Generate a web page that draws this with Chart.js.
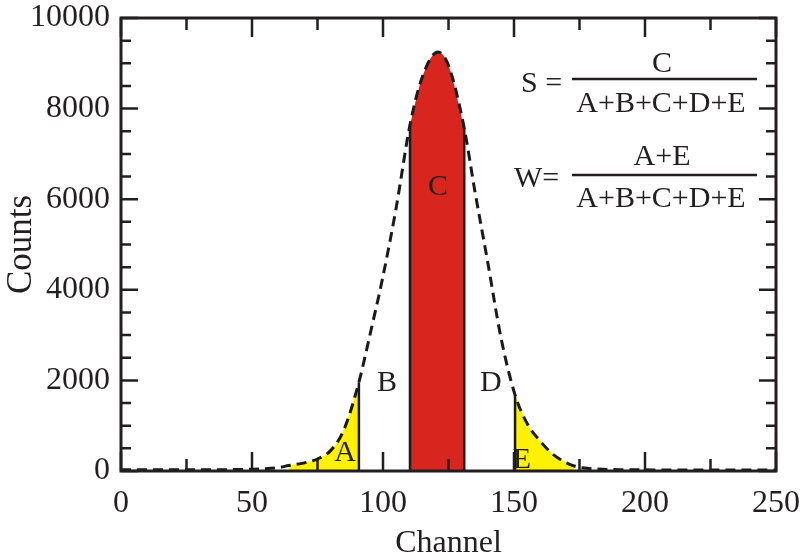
<!DOCTYPE html>
<html>
<head>
<meta charset="utf-8">
<script src="https://cdn.jsdelivr.net/npm/chart.js@4.4.0/dist/chart.umd.min.js"></script>
<style>
  body { margin: 0; background: #fff; }
  canvas { display: block; }
</style>
</head>
<body>
<canvas id="peakChart" width="801" height="560"></canvas>
<script>
// Spectrum: channel vs counts
const channels = [0, 10, 20, 30, 40, 50, 55, 60, 64, 70, 75, 80, 85, 90.8, 95, 100, 105, 110.3, 115, 121,
  125, 131, 135, 140, 145, 150.4, 155, 160, 165, 173, 180, 190, 200, 210, 220, 230, 240, 250];
const counts = [30, 30, 30, 30, 30, 40, 50, 75, 120, 180, 265, 450, 900, 1960, 3000, 4300, 5800, 7640, 8700, 9250,
  8950, 7570, 6200, 4600, 2950, 1680, 1050, 660, 360, 110, 50, 30, 25, 20, 20, 20, 20, 20];

// Shaded windows (channel ranges)
const regionNames = ['A', 'C', 'E'];
const regionFrom = [64, 110.3, 150.4];
const regionTo = [90.8, 131, 173];
const regionColors = ['#fff200', '#d8261e', '#fff200'];
// channels where a solid vertical edge is drawn
const edgeChannels = [90.8, 110.3, 131, 150.4];

// Letter labels (data coordinates)
const letterText = ['A', 'B', 'C', 'D', 'E'];
const letterX = [85.5, 101.5, 121, 141.2, 153];
const letterY = [400, 1940, 6260, 1940, 240];

const xTicksStep = 50, xMinorStep = 25;
const yTicksStep = 2000, yMinorStep = 500;

const SERIF = '"Liberation Serif", "Times New Roman", serif';
const INK = '#231f20';

const curve = channels.map((c, i) => ({ x: c, y: counts[i] }));

const datasets = [{
  label: 'Counts',
  data: curve,
  borderColor: '#1a1a1a',
  borderWidth: 3,
  borderDash: [10, 6],
  pointRadius: 0,
  cubicInterpolationMode: 'monotone',
  fill: false,
  order: 0
}];

regionNames.forEach((name, r) => {
  datasets.push({
    label: name,
    data: curve.filter(p => p.x >= regionFrom[r] && p.x <= regionTo[r]),
    backgroundColor: regionColors[r],
    borderWidth: 0,
    pointRadius: 0,
    cubicInterpolationMode: 'monotone',
    fill: 'origin',
    order: 3
  });
});

edgeChannels.forEach(c => {
  const v = counts[channels.indexOf(c)];
  datasets.push({
    label: 'edge',
    data: [{ x: c, y: 0 }, { x: c, y: v }],
    borderColor: '#1a1a1a',
    borderWidth: 2.5,
    pointRadius: 0,
    fill: false,
    order: 2
  });
});

// frame + inward ticks on all four sides
const framePlugin = {
  id: 'frame',
  afterDatasetsDraw(chart) {
    const { ctx, chartArea: a, scales: { x, y } } = chart;
    ctx.save();
    ctx.strokeStyle = INK;
    ctx.lineWidth = 2.5;
    ctx.beginPath();
    for (let v = 0; v <= 250; v += xMinorStep) {
      const px = x.getPixelForValue(v);
      const len = v % xTicksStep === 0 ? 19 : 12;
      ctx.moveTo(px, a.bottom); ctx.lineTo(px, a.bottom - len);
      ctx.moveTo(px, a.top); ctx.lineTo(px, a.top + len);
    }
    for (let v = 0; v <= 10000; v += yMinorStep) {
      const py = y.getPixelForValue(v);
      const len = v % yTicksStep === 0 ? 17 : 10;
      ctx.moveTo(a.left, py); ctx.lineTo(a.left + len, py);
      ctx.moveTo(a.right, py); ctx.lineTo(a.right - len, py);
    }
    ctx.stroke();
    ctx.lineWidth = 3;
    ctx.strokeRect(a.left, a.top, a.right - a.left, a.bottom - a.top);

    // region letters
    ctx.fillStyle = INK;
    ctx.font = '30px ' + SERIF;
    ctx.textAlign = 'center';
    ctx.textBaseline = 'middle';
    letterText.forEach((t, i) => {
      ctx.fillText(t, x.getPixelForValue(letterX[i]), y.getPixelForValue(letterY[i]));
    });
    ctx.restore();
  },
  afterDraw(chart) {
    const { ctx } = chart;
    ctx.save();
    ctx.fillStyle = INK;
    ctx.strokeStyle = INK;
    ctx.font = '30px ' + SERIF;
    ctx.textBaseline = 'alphabetic';
    ctx.textAlign = 'left';
    ctx.fillText('S =', 521, 92);
    ctx.fillText('W=', 514, 187);
    ctx.textAlign = 'center';
    ctx.fillText('C', 662, 72);
    ctx.fillText('A+B+C+D+E', 661, 112);
    ctx.fillText('A+E', 662, 165);
    ctx.fillText('A+B+C+D+E', 661, 207);
    ctx.lineWidth = 2.5;
    ctx.beginPath();
    ctx.moveTo(572, 79); ctx.lineTo(757, 79);
    ctx.moveTo(572, 175); ctx.lineTo(757, 175);
    ctx.stroke();
    ctx.restore();
  }
};

new Chart(document.getElementById('peakChart').getContext('2d'), {
  type: 'line',
  data: { datasets },
  options: {
    responsive: false,
    animation: false,
    devicePixelRatio: 1,
    layout: { padding: { left: 0, right: 25, top: 18, bottom: 0 } },
    plugins: { legend: { display: false }, tooltip: { enabled: false } },
    scales: {
      x: {
        type: 'linear',
        min: 0, max: 250,
        grid: { display: false, drawTicks: false },
        border: { display: false },
        ticks: { stepSize: xTicksStep, padding: 17, color: INK, font: { family: SERIF, size: 32, lineHeight: 1 } },
        title: { display: true, text: 'Channel', color: INK, padding: 0, font: { family: SERIF, size: 32, lineHeight: 1 } },
        afterFit: s => { s.height = 89; s.paddingLeft = 0; s.paddingRight = 0; }
      },
      y: {
        min: 0, max: 10000,
        grid: { display: false, drawTicks: false },
        border: { display: false },
        ticks: { stepSize: yTicksStep, padding: 11, color: INK, callback: v => String(v),
          font: { family: SERIF, size: 32, lineHeight: 1 } },
        title: { display: true, text: 'Counts', color: INK, padding: { top: 4 }, font: { family: SERIF, size: 35, lineHeight: 1 } },
        afterFit: s => { s.width = 121; s.paddingTop = 0; s.paddingBottom = 0; }
      }
    }
  },
  plugins: [framePlugin]
});
</script>
</body>
</html>
